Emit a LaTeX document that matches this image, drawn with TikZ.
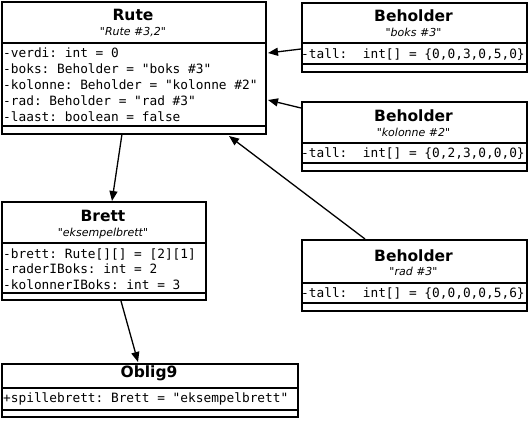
\documentclass[tikz,border=0pt]{standalone}
\usepackage{fontspec}
\setmainfont{DejaVu Sans}
\setmonofont{DejaVu Sans Mono}
\usetikzlibrary{arrows.meta}
\newcommand{\dq}{\textquotedbl}
\begin{document}
\begin{tikzpicture}[x=1pt,y=-1pt,
  umlbox/.style={draw, line width=2pt, rectangle, anchor=north west, inner sep=0pt},
  divider/.style={line width=2pt},
  title/.style={anchor=base, inner sep=0pt, font=\fontsize{15.5}{18}\selectfont\bfseries},
  subtitle/.style={anchor=base, inner sep=0pt, font=\fontsize{11}{13}\selectfont\itshape},
  attr/.style={anchor=base west, inner sep=0pt, font=\fontsize{12.8}{15}\selectfont\ttfamily},
  arr/.style={line width=1.3pt, -{Triangle[length=10pt,width=8pt]}}
]
\useasboundingbox (0,0) rectangle (529,420);

% ---------- Rute ----------
\node[umlbox, minimum width=264pt, minimum height=132pt] (rute) at (1,1) {};
\draw[divider] ([yshift=-42pt]rute.north west) -- ([yshift=-42pt]rute.north east);
\draw[divider] ([yshift=-125pt]rute.north west) -- ([yshift=-125pt]rute.north east);
\node[title] (ruteT) at (133,20.5) {Rute};
\node[subtitle] (ruteS) at (133,36) {\dq Rute \#3,2\dq};
\node[attr] (ruteA1) at (3,57.5) {-verdi: int = 0};
\node[attr] (ruteA2) at (3,73.5) {-boks: Beholder = "boks \#3"};
\node[attr] (ruteA3) at (3,89.5) {-kolonne: Beholder = "kolonne \#2"};
\node[attr] (ruteA4) at (3,105.5) {-rad: Beholder = "rad \#3"};
\node[attr] (ruteA5) at (3,121.5) {-laast: boolean = false};

% ---------- Beholder boks ----------
\node[umlbox, minimum width=225pt, minimum height=69pt] (boks) at (301,2) {};
\draw[divider] ([yshift=-41pt]boks.north west) -- ([yshift=-41pt]boks.north east);
\draw[divider] ([yshift=-62pt]boks.north west) -- ([yshift=-62pt]boks.north east);
\node[title] (boksT) at (413.5,21.5) {Beholder};
\node[subtitle] (boksS) at (413.5,36.5) {\dq boks \#3\dq};
\node[attr] (boksA) at (301,58) {-tall:\ \ int[] = \{0,0,3,0,5,0\}};

% ---------- Beholder kolonne ----------
\node[umlbox, minimum width=225pt, minimum height=69pt] (kol) at (301,101) {};
\draw[divider] ([yshift=-42pt]kol.north west) -- ([yshift=-42pt]kol.north east);
\draw[divider] ([yshift=-62pt]kol.north west) -- ([yshift=-62pt]kol.north east);
\node[title] (kolT) at (413.5,121) {Beholder};
\node[subtitle] (kolS) at (413.5,136) {\dq kolonne \#2\dq};
\node[attr] (kolA) at (301,157.5) {-tall:\ \ int[] = \{0,2,3,0,0,0\}};

% ---------- Beholder rad ----------
\node[umlbox, minimum width=225pt, minimum height=71pt] (rad) at (301,239) {};
\draw[divider] ([yshift=-44pt]rad.north west) -- ([yshift=-44pt]rad.north east);
\draw[divider] ([yshift=-64pt]rad.north west) -- ([yshift=-64pt]rad.north east);
\node[title] (radT) at (413.5,261) {Beholder};
\node[subtitle] (radS) at (413.5,275.5) {\dq rad \#3\dq};
\node[attr] (radA) at (301,297.5) {-tall:\ \ int[] = \{0,0,0,0,5,6\}};

% ---------- Brett ----------
\node[umlbox, minimum width=204pt, minimum height=98pt] (brett) at (1,201) {};
\draw[divider] ([yshift=-42pt]brett.north west) -- ([yshift=-42pt]brett.north east);
\draw[divider] ([yshift=-92pt]brett.north west) -- ([yshift=-92pt]brett.north east);
\node[title] (brettT) at (103,221) {Brett};
\node[subtitle] (brettS) at (103,236.5) {\dq eksempelbrett\dq};
\node[attr] (brettA1) at (3,258) {-brett: Rute[][] = [2][1]};
\node[attr] (brettA2) at (3,273.8) {-raderIBoks: int = 2};
\node[attr] (brettA3) at (3,289.5) {-kolonnerIBoks: int = 3};

% ---------- Oblig9 ----------
\node[umlbox, minimum width=296pt, minimum height=53pt] (oblig) at (1,363) {};
\draw[divider] ([yshift=-25pt]oblig.north west) -- ([yshift=-25pt]oblig.north east);
\draw[divider] ([yshift=-47pt]oblig.north west) -- ([yshift=-47pt]oblig.north east);
\node[title] (obligT) at (149,377.5) {Oblig9};
\node[attr] (obligA) at (3,402.5) {+spillebrett: Brett = "eksempelbrett"};

% ---------- connectors ----------
\draw[arr] ([yshift=-47pt]boks.north west) -- ([yshift=-52pt,xshift=1pt]rute.north east);
\draw[arr] ([yshift=-7pt]kol.north west) -- ([yshift=-99pt,xshift=1pt]rute.north east);
\draw[arr] ([xshift=64pt]rad.north west) -- ([xshift=228pt,yshift=-135pt]rute.north west);
\draw[arr] ([xshift=121pt,yshift=-133pt]rute.north west) -- ([xshift=111pt]brett.north west);
\draw[arr] ([xshift=120pt]brett.south west) -- ([xshift=137pt,yshift=1pt]oblig.north west);
\end{tikzpicture}
\end{document}
